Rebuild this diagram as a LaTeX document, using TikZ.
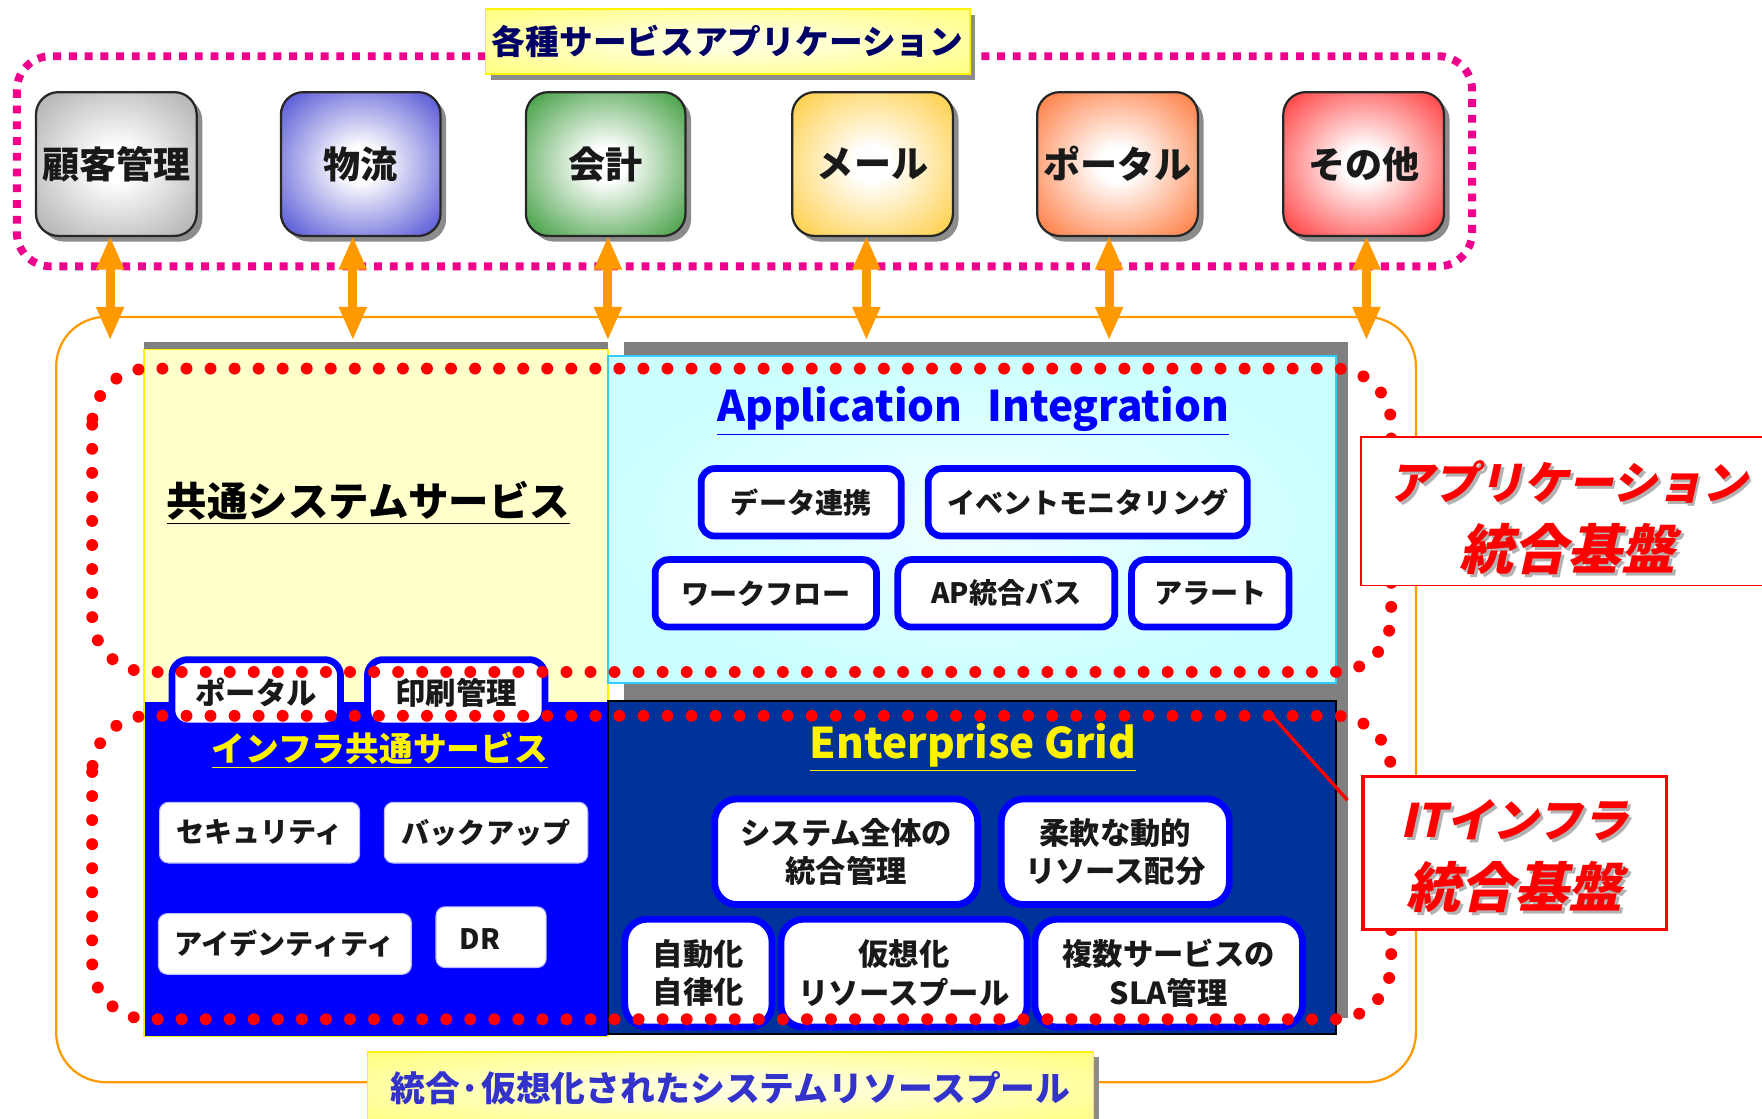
\documentclass[tikz,border=0pt]{standalone}
\usepackage{fontspec}
\setmainfont{Noto Sans CJK JP}
\newfontfamily\jpsl{Noto Sans CJK JP}[FakeSlant=0.22]
\usetikzlibrary{shadows,arrows.meta}
\newcommand\fsz[2]{\fontsize{#1}{#2}\selectfont}
\newcommand\tshd[1]{\makebox[0pt][l]{\hspace{1.3pt}\raisebox{-1.3pt}{\textcolor{black!30}{#1}}}#1}
\newcommand\lowr[2]{\raisebox{-#1}[\height][\depth]{#2}}
\definecolor{bxgray}{HTML}{A0A0A0}
\definecolor{bxblue}{HTML}{3030CC}
\definecolor{bxgreen}{HTML}{1A8A1A}
\definecolor{bxgold}{HTML}{FFC420}
\definecolor{bxorange}{HTML}{FF6018}
\definecolor{bxred}{HTML}{FF1515}
\definecolor{orA}{HTML}{FF9900}
\definecolor{panelgray}{HTML}{808080}
\definecolor{paleyel}{HTML}{FFFFCC}
\definecolor{cyanin}{HTML}{F2FFFF}
\definecolor{cyanout}{HTML}{CCFFFF}
\definecolor{cyanedge}{HTML}{33CCFF}
\definecolor{egblue}{HTML}{003399}
\definecolor{navytxt}{HTML}{000066}
\definecolor{bottxt}{HTML}{3333CC}
\colorlet{boxcol}{gray}
\pgfdeclareradialshading[boxcol]{boxrad}{\pgfpoint{0bp}{0bp}}{color(0bp)=(white); color(6bp)=(white); color(40bp)=(boxcol); color(50bp)=(boxcol)}
\pgfdeclareradialshading{labrad}{\pgfpoint{0bp}{0bp}}{color(0bp)=(yellow!10); color(10bp)=(yellow!18); color(44bp)=(yellow!62); color(50bp)=(yellow!62)}
\begin{document}
\begin{tikzpicture}[x=0.5pt,y=-0.5pt,
  fb/.style={inner sep=0pt, outer sep=0pt},
  box/.style n args={4}{at={({(#1+#3)/2},{(#2+#4)/2})}, minimum width={(#3-#1)*0.5pt}, minimum height={(#4-#2)*0.5pt}},
  shd/.style={drop shadow={shadow xshift=2.5pt, shadow yshift=-2.5pt, fill=black!45, opacity=1}},
  boxcolor/.code={\colorlet{boxcol}{#1}},
  topbox/.style={fb, rounded corners=10pt, draw=black!85, line width=1pt, shade, shading=boxrad, shd, font=\bfseries\fsz{16.5}{19}, text=black!90},
  ylabel/.style={fb, draw=yellow, line width=0.8pt, shade, shading=labrad, shd},
  dbl/.style={draw=orA, line width=4pt, arrows={Triangle[width=11.5pt,length=15pt]-Triangle[width=11.5pt,length=15pt]}},
  magdot/.style={draw=magenta, line width=3.5pt, dash pattern=on 3.5pt off 3.5pt, rounded corners=15pt},
  reddot/.style={draw=red, line width=5.3pt, line cap=round, dash pattern=on 0pt off 10.7pt, rounded corners=25pt},
  tabbox/.style={fb, fill=white, draw=blue, line width=3pt, rounded corners=7pt, font=\bfseries\fsz{13.5}{16}, text=black!90},
  ibox/.style={fb, fill=white, draw=blue!25, line width=0.5pt, rounded corners=4pt, font=\bfseries\fsz{12.5}{15}, text=black!90},
  aibox/.style={fb, fill=white, draw=blue, line width=3pt, rounded corners=6pt, font=\bfseries\fsz{12.5}{15}, text=black!90},
  egbox/.style={fb, fill=white, draw=blue, line width=3pt, rounded corners=10pt, align=center, font=\bfseries\fsz{13.5}{17}, text=black!90},
  callout/.style={fb, fill=white, draw=red, align=center, text=red, font=\jpsl\bfseries}
]
\useasboundingbox (0,0) rectangle (1568,995);

% application group frame
\draw[magdot] (15,50) rectangle (1310,237);
\node[ylabel, box={432}{8}{863}{66}, font=\bfseries\fsz{15}{18}, text=navytxt] (title) {各種サービスアプリケーション};

% application boxes
\node[topbox, boxcolor=bxgray,   box={32}{82}{175}{210}]    (b1) {顧客管理};
\node[topbox, boxcolor=bxblue,   box={250}{82}{392}{210}]   (b2) {物流};
\node[topbox, boxcolor=bxgreen,  box={468}{82}{610}{210}]   (b3) {会計};
\node[topbox, boxcolor=bxgold,   box={705}{82}{848}{210}]   (b4) {メール};
\node[topbox, boxcolor=bxorange, box={923}{82}{1066}{210}]  (b5) {ポータル};
\node[topbox, boxcolor=bxred,    box={1142}{82}{1285}{210}] (b6) {その他};

% resource pool frame
\draw[orA, line width=1pt, rounded corners=22pt] (50,282) rectangle (1260,963);

% panels
\node[fb, fill=panelgray, box={128}{304}{541}{330}] (g1) {};
\node[fb, fill=paleyel, draw=yellow, line width=0.6pt, box={128}{311}{541}{922}] (pY) {};
\node[fb, fill=panelgray, box={555}{304}{1200}{612}] (g2) {};
\node[fb, shade, shading=radial, inner color=cyanin, outer color=cyanout, draw=cyanedge, line width=0.8pt, box={541}{317}{1189}{608}] (pC) {};
\node[fb, fill=panelgray, box={555}{610}{1200}{906}] (g3) {};
\node[fb, fill=egblue, draw=black, line width=0.8pt, box={541}{624}{1189}{920}] (pE) {};
\node[fb, fill=blue, box={128.6}{625}{540.6}{922}] (pB) {};

% panel titles
\node[font=\bfseries\fsz{18}{21}, text=black] (tY) at (328,448) {\underline{共通システムサービス}};
\node[font=\bfseries\fsz{18.8}{22}, text=blue] (tC) at (866,366) {\underline{Application\hspace{0.6em}Integration}};
\node[font=\bfseries\fsz{15}{18}, text=yellow] (tB) at (338,668) {\underline{インフラ共通サービス}};
\node[font=\bfseries\fsz{18.8}{22}, text=yellow] (tE) at (866,665) {\underline{Enterprise Grid}};

% tabs
\node[tabbox, box={153}{587}{303}{646}] (t1) {ポータル};
\node[tabbox, box={327}{587}{485}{646}] (t2) {印刷管理};

% infra common services
\node[ibox, box={142}{714}{320}{768}] (i1) {セキュリティ};
\node[ibox, box={342}{714}{523}{768}] (i2) {バックアップ};
\node[ibox, box={141}{813}{366}{867}] (i3) {アイデンティティ};
\node[ibox, box={388}{807}{486}{861}] (i4) {\lowr{1pt}{DR}\kern10pt};

% application integration
\node[aibox, box={624}{417}{802}{477}]   (a1) {データ連携};
\node[aibox, box={826}{417}{1110}{477}]  (a2) {イベントモニタリング};
\node[aibox, box={583}{498}{780}{558}]   (a3) {ワークフロー};
\node[aibox, box={799}{498}{992}{558}]   (a4) {AP統合バス};
\node[aibox, box={1007}{498}{1147}{558}] (a5) {アラート};

% enterprise grid
\node[egbox, box={636}{711}{870}{805}]  (e1) {システム全体の\\統合管理};
\node[egbox, box={891}{711}{1094}{805}] (e2) {柔軟な動的\\リソース配分};
\node[egbox, box={556}{818}{687}{914}]  (e3) {自動化\\自律化};
\node[egbox, box={695}{818}{914}{914}]  (e4) {仮想化\\リソースプール};
\node[egbox, box={921}{818}{1159}{914}] (e5) {複数サービスの\\SLA管理};

% red dotted groupings
\draw[reddot] (82,328) rectangle (1238,598);
\draw[reddot] (82,637) rectangle (1238,907);

% arrows
\coordinate (d1) at (98,303);
\coordinate (d2) at (314,303);
\coordinate (d3) at (541,303);
\coordinate (d4) at (771,303);
\coordinate (d5) at (987,303);
\coordinate (d6) at (1216,303);
\draw[dbl] (b1.south -| d1) -- (d1);
\draw[dbl] (b2.south -| d2) -- (d2);
\draw[dbl] (b3.south -| d3) -- (d3);
\draw[dbl] (b4.south -| d4) -- (d4);
\draw[dbl] (b5.south -| d5) -- (d5);
\draw[dbl] (b6.south -| d6) -- (d6);

% callouts
\coordinate (r1) at (1133,638);
\coordinate (r2) at (1199,712);
\draw[red, line width=1.5pt] (r1) -- (r2);
\node[callout, line width=0.8pt, box={1211}{389}{1579}{521}] (cA)
  {{\fsz{20}{24}\lowr{3.5pt}{\tshd{アプリケーション}}}\\[7pt]{\fsz{24}{26}\lowr{3.5pt}{\tshd{統合基盤}}}};
\node[callout, line width=1.5pt, box={1213}{691}{1483}{827}] (cI)
  {{\fsz{20.5}{24}\lowr{2pt}{\tshd{ITインフラ}}}\\[7pt]{\fsz{24}{26}\lowr{2pt}{\tshd{統合基盤}}}};

% bottom label
\node[ylabel, box={327}{936}{973}{1000}, font=\bfseries\fsz{15.5}{18}, text=bottxt] (pool) {統合·仮想化されたシステムリソースプール};
\end{tikzpicture}
\end{document}
